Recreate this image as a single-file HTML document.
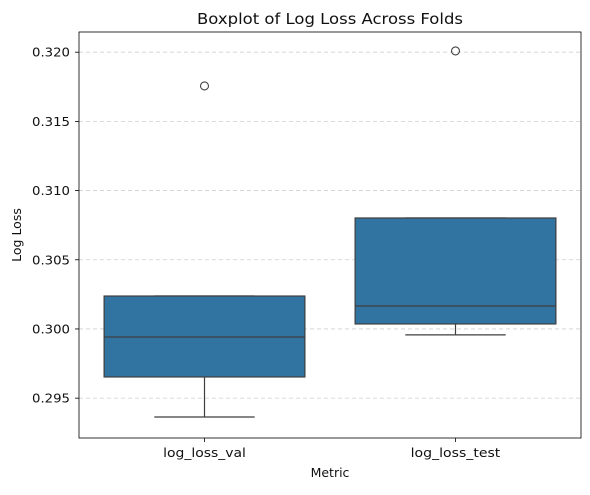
<!DOCTYPE html>
<html><head><meta charset="utf-8"><style>
body{margin:0;background:#fff;font-family:"Liberation Sans","DejaVu Sans",sans-serif;}
svg text{font-family:"DejaVu Sans","Liberation Sans",sans-serif;fill:#111;}
</style></head><body>
<svg id="chart" width="590" height="490" xmlns="http://www.w3.org/2000/svg">
<rect width="590" height="490" fill="#fff"/>
<g id="grid"></g><g id="marks"></g><g id="axes"></g>
<text x="330" y="24" text-anchor="middle" font-size="15.5" textLength="266" lengthAdjust="spacingAndGlyphs">Boxplot of Log Loss Across Folds</text>
<text x="330" y="477" text-anchor="middle" font-size="12.5">Metric</text>
<text transform="translate(21,235) rotate(-90)" text-anchor="middle" font-size="12.5">Log Loss</text>
</svg>
<script>
const categories=["log_loss_val","log_loss_test"];
const q1s=[0.29653,0.30036];
const medians=[0.29942,0.30166];
const q3s=[0.30238,0.30802];
const whiskerLow=[0.29364,0.29957];
const whiskerHigh=[0.30238,0.30802];
const outliers=[[0.31756],[0.32009]];
const yTicks=[0.295,0.300,0.305,0.310,0.315,0.320];
const yTickLabels=["0.295","0.300","0.305","0.310","0.315","0.320"];

const L=79,R=581,T=32,B=438,yMin=0.29212,yMax=0.32146;
const NS="http://www.w3.org/2000/svg";
const y=v=>B-(v-yMin)/(yMax-yMin)*(B-T);
const band=(R-L)/categories.length;
const xc=i=>L+band*(i+0.5);
function mk(p,tag,a){const e=document.createElementNS(NS,tag);for(const k in a)e.setAttribute(k,a[k]);p.appendChild(e);return e;}
const grid=document.getElementById('grid'),marks=document.getElementById('marks'),axes=document.getElementById('axes');
yTicks.forEach((t,i)=>{
 const g=mk(grid,'line',{x1:L,x2:R,y1:y(t),y2:y(t),stroke:'#cfcfcf','stroke-dasharray':'4,3','stroke-width':0.8});
 
 
 const tk=mk(axes,'line',{x1:L-4,x2:L,y1:y(t),y2:y(t),stroke:'#000','stroke-width':0.8});
 
 
 const tx=mk(axes,'text',{x:L-9,y:y(t)+4.5,'text-anchor':'end','font-size':12.5,textLength:38,lengthAdjust:'spacingAndGlyphs'});
 tx.textContent=yTickLabels[i];
 
 
});
const col='#3f3f3f',bw=band*0.8;
categories.forEach((c,i)=>{
 const x=xc(i);
 const g=mk(marks,'g',{});
 
 
 mk(g,'line',{x1:x,x2:x,y1:y(whiskerLow[i]),y2:y(q1s[i]),stroke:col,'stroke-width':1.2});
 mk(g,'line',{x1:x,x2:x,y1:y(q3s[i]),y2:y(whiskerHigh[i]),stroke:col,'stroke-width':1.2});
 mk(g,'line',{x1:x-bw/4,x2:x+bw/4,y1:y(whiskerLow[i]),y2:y(whiskerLow[i]),stroke:col,'stroke-width':1.2});
 mk(g,'line',{x1:x-bw/4,x2:x+bw/4,y1:y(whiskerHigh[i]),y2:y(whiskerHigh[i]),stroke:col,'stroke-width':1.2});
 mk(g,'rect',{x:x-bw/2,y:y(q3s[i]),width:bw,height:y(q1s[i])-y(q3s[i]),fill:'#3274a1',stroke:col,'stroke-width':1.2});
 mk(g,'line',{x1:x-bw/2,x2:x+bw/2,y1:y(medians[i]),y2:y(medians[i]),stroke:col,'stroke-width':1.2});
 outliers[i].forEach(o=>{
  const p=mk(g,'circle',{cx:x,cy:y(o),r:4,fill:'none',stroke:col,'stroke-width':1.1});
  
  
 });
 const tk=mk(axes,'line',{x1:x,x2:x,y1:B,y2:B+4,stroke:'#000','stroke-width':0.8});
 
 
 const tx=mk(axes,'text',{x:x,y:B+19,'text-anchor':'middle','font-size':12.5,textLength:c.length*6.9,lengthAdjust:'spacingAndGlyphs'});
 tx.textContent=c;
 
 
});
const fr=mk(axes,'rect',{x:L,y:T,width:R-L,height:B-T,fill:'none',stroke:'#000','stroke-width':0.8});


</script>
</body></html>
